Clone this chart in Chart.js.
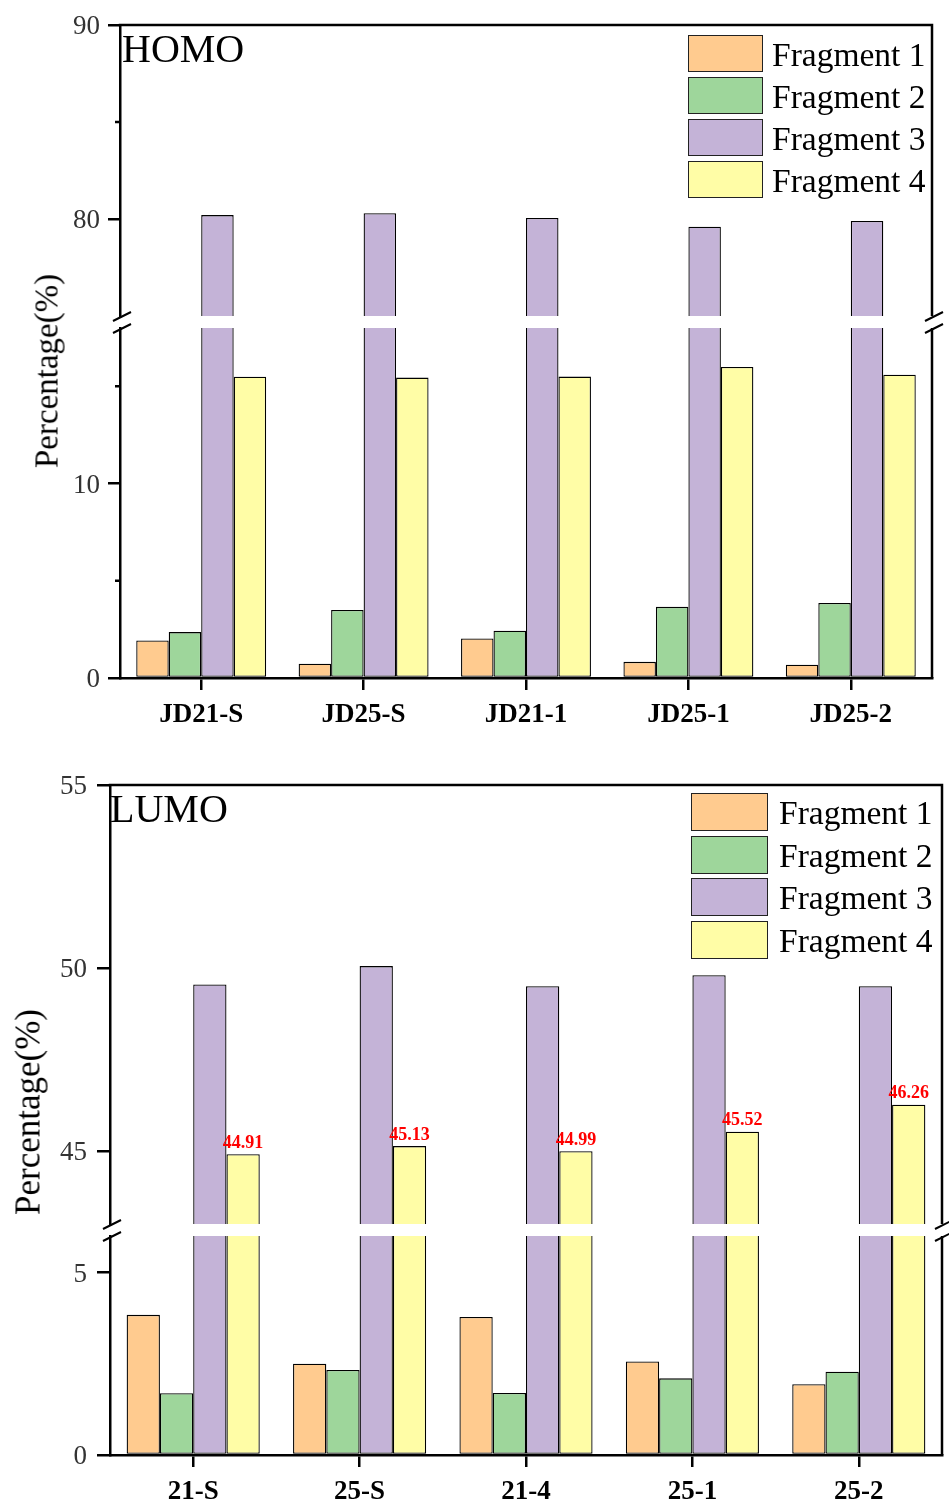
<!DOCTYPE html>
<html>
<head>
<meta charset="utf-8">
<script src="https://cdn.jsdelivr.net/npm/chart.js@4.4.1/dist/chart.umd.min.js"></script>
<style>
  html, body { margin: 0; padding: 0; background: #fff; }
  #page { position: relative; width: 949px; height: 1504px; overflow: hidden; font-family: "Liberation Serif", "Times New Roman", serif; }
  #page canvas { position: absolute; left: 0; }
  .ytitle { position: absolute; white-space: nowrap; line-height: 1; color: #000;
            transform: translate(-50%, -50%) rotate(-90deg); }
  .panel-name { position: absolute; line-height: 1; color: #000; white-space: nowrap; }
  .legend-box { position: absolute; box-sizing: border-box; border: 1.5px solid #222; }
  .legend-text { position: absolute; line-height: 1; color: #000; white-space: nowrap; }
</style>
</head>
<body>
<div id="page">
  <canvas id="homoUpper" width="949" height="342" style="top:0px"></canvas>
  <canvas id="homoLower" width="949" height="449" style="top:300px"></canvas>
  <canvas id="lumoUpper" width="949" height="494" style="top:758px"></canvas>
  <canvas id="lumoLower" width="949" height="296" style="top:1208px"></canvas>
</div>
<script>
// ---- data ----
const fragments = ['Fragment 1', 'Fragment 2', 'Fragment 3', 'Fragment 4'];
const fragmentColors = ['#FFCB8F', '#9ED69B', '#C4B3D7', '#FFFDA6'];

const homoSamples = ['JD21-S', 'JD25-S', 'JD21-1', 'JD25-1', 'JD25-2'];
const homoFrag1 = [1.93, 0.73, 2.03, 0.83, 0.68];
const homoFrag2 = [2.36, 3.50, 2.43, 3.66, 3.86];
const homoFrag3 = [80.20, 80.30, 80.05, 79.60, 79.90];
const homoFrag4 = [15.49, 15.45, 15.50, 16.00, 15.60];

const lumoSamples = ['21-S', '25-S', '21-4', '25-1', '25-2'];
const lumoFrag1 = [3.84, 2.50, 3.78, 2.56, 1.94];
const lumoFrag2 = [1.69, 2.33, 1.70, 2.10, 2.28];
const lumoFrag3 = [49.55, 50.05, 49.50, 49.80, 49.50];
const lumoFrag4 = [44.91, 45.13, 44.99, 45.52, 46.26];

const homoUpperTicks = [80, 90];
const homoUpperMinor = [85];
const homoLowerTicks = [0, 10];
const homoLowerMinor = [5, 15];
const lumoUpperTicks = [45, 50, 55];
const lumoLowerTicks = [0, 5];

const SERIF = '"Liberation Serif", "Times New Roman", serif';
Chart.defaults.font.family = SERIF;

// Frame lines, axis-break marks and minor ticks for one segment of a broken axis.
const framePlugin = {
  id: 'frame',
  afterDraw(chart, args, o) {
    const { ctx, chartArea: a } = chart;
    ctx.save();
    ctx.strokeStyle = '#000';
    ctx.lineWidth = 2.5;
    ctx.lineCap = 'butt';
    ctx.beginPath();
    ctx.moveTo(a.right, a.top);
    ctx.lineTo(a.right, a.bottom);
    if (o.part === 'upper') {
      ctx.moveTo(a.left - 1.25, a.top);
      ctx.lineTo(a.right + 1.25, a.top);
    }
    // minor ticks
    const ys = chart.scales.y;
    (o.minor || []).forEach(v => {
      const py = ys.getPixelForValue(v);
      ctx.moveTo(a.left - 5, py);
      ctx.lineTo(a.left, py);
    });
    ctx.stroke();
    // break marks
    ctx.lineWidth = 2;
    const yb = o.part === 'upper' ? a.bottom : a.top;
    ctx.beginPath();
    [a.left, a.right].forEach(x => {
      ctx.moveTo(x - 7, yb + 5);
      ctx.lineTo(x + 11, yb - 4);
    });
    ctx.stroke();
    ctx.restore();
  }
};

// Value labels above one series of bars.
const valueLabelPlugin = {
  id: 'valueLabels',
  afterDatasetsDraw(chart, args, o) {
    if (o.dataset === undefined || o.dataset === null) return;
    const ds = chart.data.datasets[o.dataset];
    const meta = chart.getDatasetMeta(o.dataset);
    const { ctx } = chart;
    ctx.save();
    ctx.font = 'bold 18px ' + SERIF;
    ctx.fillStyle = '#FF0000';
    ctx.textAlign = 'center';
    ctx.textBaseline = 'bottom';
    meta.data.forEach((bar, i) => {
      ctx.fillText(ds.data[i].toFixed(2), bar.x, bar.y - 2);
    });
    ctx.restore();
  }
};

function segmentChart(id, cfg) {
  const datasets = cfg.series.map((vals, i) => ({
    label: fragments[i],
    data: vals,
    backgroundColor: fragmentColors[i],
    borderColor: '#000',
    borderWidth: 1.3,
    borderSkipped: false,
    clip: 0
  }));
  const lower = cfg.part === 'lower';
  return new Chart(document.getElementById(id), {
    type: 'bar',
    data: { labels: cfg.labels, datasets },
    plugins: [framePlugin, valueLabelPlugin],
    options: {
      responsive: false,
      animation: false,
      devicePixelRatio: 1,
      layout: { padding: cfg.padding },
      datasets: { bar: { categoryPercentage: 0.8, barPercentage: 1.0 } },
      plugins: {
        legend: { display: false },
        tooltip: { enabled: false },
        frame: { part: cfg.part, minor: cfg.minor },
        valueLabels: { dataset: cfg.valueDataset }
      },
      scales: {
        x: {
          display: lower,
          offset: true,
          afterFit: s => { s.height = cfg.axisH || s.height; },
          border: { display: true, color: '#000', width: 2.5 },
          grid: { offset: false, drawOnChartArea: false, drawTicks: true, tickLength: 12, color: '#000', lineWidth: 2.5 },
          ticks: { color: '#000', padding: 9, maxRotation: 0, autoSkip: false,
                   font: { family: SERIF, size: 27, weight: 'bold' } }
        },
        y: {
          min: cfg.min,
          max: cfg.max,
          afterBuildTicks: s => { s.ticks = cfg.ticks.map(v => ({ value: v })); },
          afterFit: s => { s.width = cfg.axisW; },
          border: { display: true, color: '#000', width: 2.5 },
          grid: { drawOnChartArea: false, drawTicks: true, tickLength: cfg.tickLen, color: '#000', lineWidth: 2.5 },
          ticks: { color: '#333', padding: cfg.tickPad, autoSkip: false, labelOffset: 2,
                   font: { family: SERIF, size: 27 } }
        }
      }
    }
  });
}

// HOMO panel
segmentChart('homoUpper', {
  part: 'upper', labels: homoSamples,
  series: [homoFrag1, homoFrag2, homoFrag3, homoFrag4],
  min: 75, max: 90, ticks: homoUpperTicks, minor: homoUpperMinor,
  padding: { top: 25, bottom: 26, left: 0, right: 17 }, axisW: 120, tickLen: 12, tickPad: 8
});
segmentChart('homoLower', {
  part: 'lower', labels: homoSamples,
  series: [homoFrag1, homoFrag2, homoFrag3, homoFrag4],
  min: 0, max: 18, ticks: homoLowerTicks, minor: homoLowerMinor,
  padding: { top: 28, bottom: 0, left: 0, right: 17 }, axisW: 120, axisH: 71, tickLen: 12, tickPad: 8
});

// LUMO panel
segmentChart('lumoUpper', {
  part: 'upper', labels: lumoSamples,
  series: [lumoFrag1, lumoFrag2, lumoFrag3, lumoFrag4],
  min: 43, max: 55, ticks: lumoUpperTicks, minor: [],
  padding: { top: 27, bottom: 28, left: 0, right: 7 }, axisW: 110, tickLen: 13, tickPad: 10,
  valueDataset: 3
});
segmentChart('lumoLower', {
  part: 'lower', labels: lumoSamples,
  series: [lumoFrag1, lumoFrag2, lumoFrag3, lumoFrag4],
  min: 0, max: 6, ticks: lumoLowerTicks, minor: [],
  padding: { top: 28, bottom: 0, left: 0, right: 7 }, axisW: 110, axisH: 49, tickLen: 13, tickPad: 10
});

// ---- text and legends ----
const page = document.getElementById('page');
function addText(cls, text, style) {
  const d = document.createElement('div');
  d.className = cls;
  d.textContent = text;
  Object.assign(d.style, style);
  page.appendChild(d);
  return d;
}

addText('panel-name', 'HOMO', { left: '122px', top: '29px', fontSize: '40px' });
addText('panel-name', 'LUMO', { left: '110px', top: '789px', fontSize: '40px' });
addText('ytitle', 'Percentage(%)', { left: '47px', top: '371px', fontSize: '33px' });
addText('ytitle', 'Percentage(%)', { left: '28px', top: '1112px', fontSize: '35px' });

function buildLegend(x, y, pitch, boxW, boxH, textX, fontSize) {
  fragments.forEach((name, i) => {
    const top = y + i * pitch;
    const b = document.createElement('div');
    b.className = 'legend-box';
    Object.assign(b.style, { left: x + 'px', top: top + 'px', width: boxW + 'px', height: boxH + 'px', background: fragmentColors[i] });
    page.appendChild(b);
    addText('legend-text', name, { left: textX + 'px', top: (top + 3) + 'px', fontSize: fontSize + 'px' });
  });
}
buildLegend(688, 35, 42, 75, 37, 772, 33.5);
buildLegend(691, 793, 42.7, 77, 38, 779, 33.5);
</script>
</body>
</html>
